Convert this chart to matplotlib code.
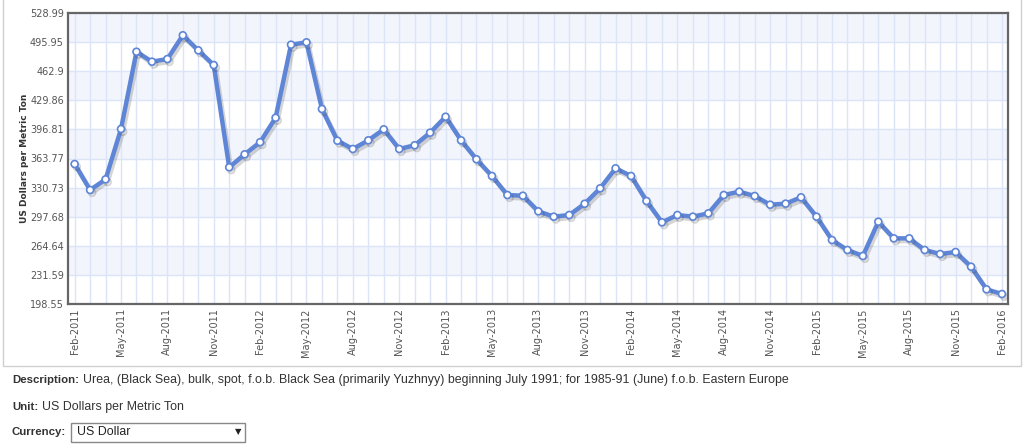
import numpy as np
import matplotlib
matplotlib.use("Agg")
import matplotlib.pyplot as plt
import matplotlib.patheffects as pe
from matplotlib.patches import Rectangle

# monthly urea price, Feb-2011 .. Feb-2016
months = ["Feb-2011", "Mar-2011", "Apr-2011", "May-2011", "Jun-2011", "Jul-2011", "Aug-2011", "Sep-2011",
          "Oct-2011", "Nov-2011", "Dec-2011", "Jan-2012", "Feb-2012", "Mar-2012", "Apr-2012", "May-2012",
          "Jun-2012", "Jul-2012", "Aug-2012", "Sep-2012", "Oct-2012", "Nov-2012", "Dec-2012", "Jan-2013",
          "Feb-2013", "Mar-2013", "Apr-2013", "May-2013", "Jun-2013", "Jul-2013", "Aug-2013", "Sep-2013",
          "Oct-2013", "Nov-2013", "Dec-2013", "Jan-2014", "Feb-2014", "Mar-2014", "Apr-2014", "May-2014",
          "Jun-2014", "Jul-2014", "Aug-2014", "Sep-2014", "Oct-2014", "Nov-2014", "Dec-2014", "Jan-2015",
          "Feb-2015", "Mar-2015", "Apr-2015", "May-2015", "Jun-2015", "Jul-2015", "Aug-2015", "Sep-2015",
          "Oct-2015", "Nov-2015", "Dec-2015", "Jan-2016", "Feb-2016"]
prices = [357.5, 328.0, 340.1, 397.3, 485.0, 473.7, 476.7, 503.7, 486.6, 469.9,
          353.8, 368.5, 382.3, 410.0, 493.0, 495.7, 420.0, 384.0, 374.6, 384.4,
          396.9, 374.6, 378.8, 393.1, 411.2, 384.4, 362.9, 343.9, 322.3, 321.5,
          303.8, 297.7, 299.6, 312.4, 329.9, 352.6, 343.9, 315.5, 291.3, 299.6,
          297.7, 301.5, 322.3, 326.1, 321.2, 311.3, 312.5, 319.7, 297.7, 271.2,
          259.9, 253.1, 292.0, 273.1, 273.1, 259.9, 255.3, 257.6, 240.9, 215.2, 209.9]
yticks = [198.55, 231.59, 264.64, 297.68, 330.73, 363.77, 396.81, 429.86, 462.9, 495.95, 528.99]
ytick_labels = ["198.55", "231.59", "264.64", "297.68", "330.73", "363.77", "396.81",
                "429.86", "462.9", "495.95", "528.99"]

W, H = 1024, 445
fig = plt.figure(figsize=(W / 100, H / 100), dpi=100)

def fx(px):
    return px / W

def fy(py):
    return 1 - py / H

# page box around the chart
fig.patches.append(Rectangle((fx(3), fy(366)), fx(1018), fy(-5) - fy(366), transform=fig.transFigure,
                             fill=False, edgecolor="#d0d0d0", linewidth=1))

ax = fig.add_axes([fx(68), fy(304), fx(1008) - fx(68), fy(13) - fy(304)])
x = np.arange(len(months))

# alternating bands
for i in range(len(yticks) - 1):
    if i % 2 == 1:
        ax.axhspan(yticks[i], yticks[i + 1], color="#f3f5fc", zorder=0)
for v in yticks:
    ax.axhline(v, color="#dce5f7", linewidth=1, zorder=1)
for xi in x:
    ax.axvline(xi, color="#dce5f7", linewidth=1, zorder=1)

ax.plot(x, prices, color="#5e85d6", linewidth=3.2, marker="o", markersize=5,
        markerfacecolor="white", markeredgecolor="#5e85d6", markeredgewidth=1.2, zorder=3,
        path_effects=[pe.SimpleLineShadow(offset=(1.5, -2), shadow_color="#444444", alpha=0.22), pe.Normal()])

ax.set_xlim(-0.43, 60.39)
ax.set_ylim(yticks[0], yticks[-1])
ax.set_yticks(yticks)
ax.set_yticklabels(ytick_labels)
ax.set_xticks(x[::3])
ax.set_xticklabels(months[::3], rotation=90)
ax.tick_params(length=0, labelsize=7, labelcolor="#555555", pad=3)
for s in ax.spines.values():
    s.set_color("#666666")
    s.set_linewidth(1.6)

fig.text(fx(25), fy(158), "US Dollars per Metric Ton", rotation=90, ha="center", va="center",
         fontsize=6.5, fontweight="bold", color="#333333")

# page text below the chart: bold label, then the value right after it
font = "Liberation Sans"
renderer = fig.canvas.get_renderer()

def label_value(py, label, value, gap=4):
    t = fig.text(fx(12), fy(py), label, fontsize=8.2, fontweight="bold", color="#333333",
                 family=font, va="center")
    end = t.get_window_extent(renderer).x1
    if value:
        fig.text(fx(end + gap), fy(py), value, fontsize=8.9, color="#333333", family=font, va="center")
    return end

label_value(380, "Description:", "Urea, (Black Sea), bulk, spot, f.o.b. Black Sea (primarily Yuzhnyy) "
            "beginning July 1991; for 1985-91 (June) f.o.b. Eastern Europe")
label_value(407, "Unit:", "US Dollars per Metric Ton")
end = label_value(432, "Currency:", None)
box_x = end + 5
fig.patches.append(Rectangle((fx(box_x), fy(442)), fx(174), fy(423) - fy(442), transform=fig.transFigure,
                             facecolor="white", edgecolor="#888888", linewidth=1))
fig.text(fx(box_x + 6), fy(432), "US Dollar", fontsize=8.9, color="#222222", family=font, va="center")
fig.text(fx(box_x + 167), fy(432), "▼", fontsize=6, color="#222222", family="DejaVu Sans",
         va="center", ha="center")

fig.savefig("out.png", dpi=100)
